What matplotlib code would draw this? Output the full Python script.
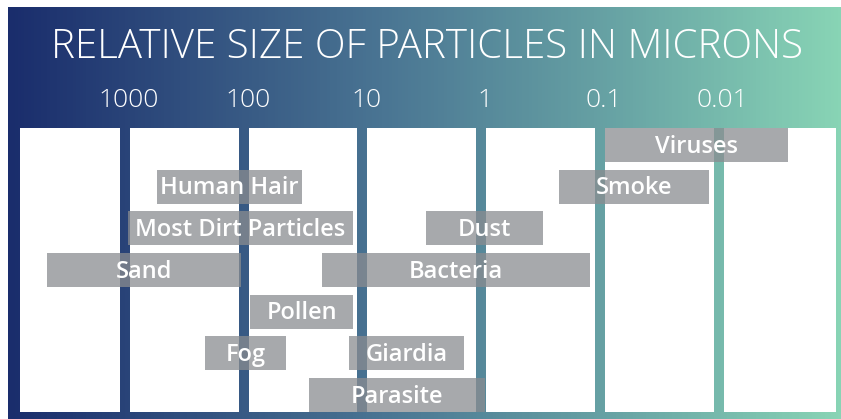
import numpy as np
import matplotlib
matplotlib.use('Agg')
import matplotlib.pyplot as plt
import matplotlib.transforms as mtransforms
from matplotlib.colors import LinearSegmentedColormap

# particle size ranges in microns
particles = ['Viruses', 'Human Hair', 'Smoke', 'Most Dirt Particles', 'Dust',
             'Sand', 'Bacteria', 'Pollen', 'Fog', 'Giardia', 'Parasite']
rows = [0, 1, 1, 2, 2, 3, 3, 4, 5, 5, 6]
size_max = [0.09, 540, 0.22, 950, 2.9, 4500, 22, 88, 210, 13, 28]
size_min = [0.0026, 32, 0.012, 12, 0.3, 105, 0.12, 12, 44, 1.4, 0.93]

scale_ticks = [1000, 100, 10, 1, 0.1, 0.01]
scale_labels = ['1000', '100', '10', '1', '0.1', '0.01']

W, H = 841, 419
fig = plt.figure(figsize=(W / 100, H / 100), dpi=100)
fig.patch.set_facecolor('white')

# gradient background
bg = fig.add_axes([8 / W, 0, (W - 8) / W, (H - 7) / H])
cmap = LinearSegmentedColormap.from_list(
    'bg', [(0, '#1a2d6c'), (0.45, '#4a7593'), (0.75, '#6aa7a6'), (1, '#88d4b5')])
bg.imshow(np.linspace(0, 1, 256)[None, :], cmap=cmap, aspect='auto',
          extent=[0, 1, 0, 1])
bg.axis('off')

fig.text(427 / W, 1 - 48 / H, 'RELATIVE SIZE OF PARTICLES IN MICRONS',
         ha='center', va='center', color='white',
         fontsize=29, family='Open Sans', fontweight='light')

# main panel area
ax = fig.add_axes([20 / W, 7 / H, 816 / W, 284 / H])
ax.patch.set_alpha(0)
ax.set_xscale('log')
px_per_dec = 118.7
lo_edge = 3 + 105 / px_per_dec
hi_edge = 3 - 711 / px_per_dec
ax.set_xlim(10 ** lo_edge, 10 ** hi_edge)
ax.set_ylim(6.407, -0.407)

# white panels between dividers
gap = 5 / px_per_dec
edges = [lo_edge] + list(np.log10(scale_ticks)) + [hi_edge]
for i in range(len(edges) - 1):
    a = edges[i] - (gap if i > 0 else 0)
    b = edges[i + 1] + (gap if i < len(edges) - 2 else 0)
    ax.axvspan(10 ** a, 10 ** b, color='white', lw=0, zorder=1)

for name, r, hi, lo in zip(particles, rows, size_max, size_min):
    ax.barh(r, hi - lo, left=lo, height=0.814, color='#8a8c90', alpha=0.75,
            lw=0, zorder=2)
    ax.text(np.sqrt(hi * lo), r + 0.04, name, ha='center', va='center',
            color='white', fontsize=17, family='Open Sans',
            fontweight='semibold', zorder=3)

ax.xaxis.tick_top()
ax.set_xticks(scale_ticks)
ax.set_xticklabels(scale_labels)
ax.minorticks_off()
ax.tick_params(axis='x', length=0, pad=11, labelsize=19, labelcolor='white')
shift = mtransforms.ScaledTranslation(4 / 100, 0, fig.dpi_scale_trans)
for lbl in ax.get_xticklabels():
    lbl.set_family('Open Sans')
    lbl.set_fontweight('light')
    lbl.set_transform(lbl.get_transform() + shift)
ax.set_yticks([])
for s in ax.spines.values():
    s.set_visible(False)

fig.savefig('out.png', dpi=100)
